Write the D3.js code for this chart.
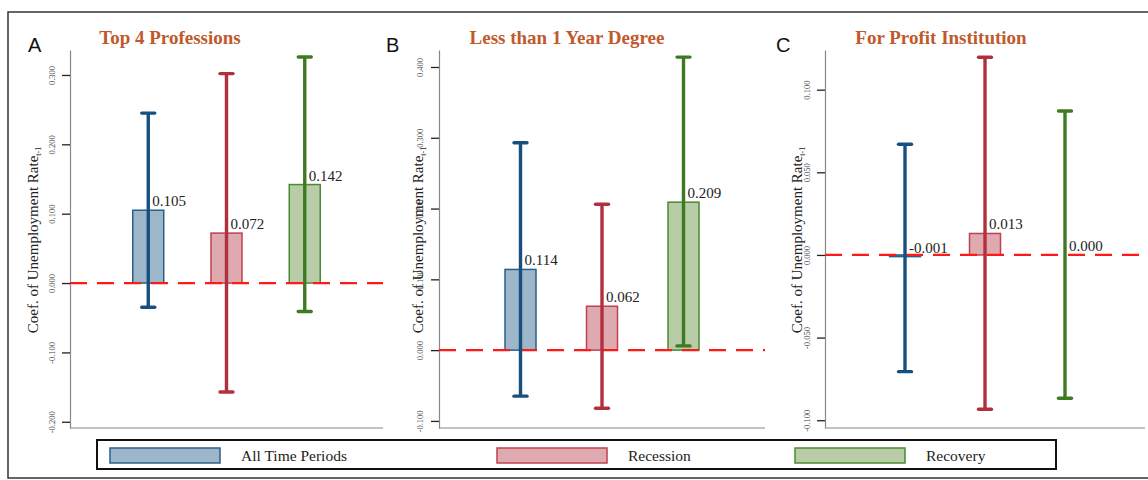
<!DOCTYPE html>
<html>
<head>
<meta charset="utf-8">
<script src="https://cdn.jsdelivr.net/npm/d3@7"></script>
<style>
  html, body { margin: 0; padding: 0; background: #fff; }
  svg { display: block; }
</style>
</head>
<body>
<div id="chart"></div>
<script>
// Series / categories
var periods = ['All Time Periods', 'Recession', 'Recovery'];
var panelLetters = ['A', 'B', 'C'];
var panelTitles = ['Top 4 Professions', 'Less than 1 Year Degree', 'For Profit Institution'];

// Coefficients and confidence interval bounds, per panel
var coefA = [0.105, 0.072, 0.142];
var lowA = [-0.035, -0.157, -0.041];
var highA = [0.245, 0.302, 0.326];

var coefB = [0.114, 0.062, 0.209];
var lowB = [-0.065, -0.082, 0.006];
var highB = [0.293, 0.206, 0.414];

var coefC = [-0.001, 0.013, 0.000];
var lowC = [-0.0706, -0.0934, -0.0867];
var highC = [0.067, 0.1196, 0.0871];

// Axis ticks and ranges
var ticksA = [-0.2, -0.1, 0, 0.1, 0.2, 0.3];
var ticksB = [-0.1, 0, 0.1, 0.2, 0.3, 0.4];
var ticksC = [-0.1, -0.05, 0, 0.05, 0.1];
var domainA = [-0.209, 0.336];
var domainB = [-0.110, 0.424];
var domainC = [-0.1047, 0.124];

var colors = {
  err: ['#17507f', '#b2303e', '#3e7a22'],
  fill: ['#9db6ca', '#deaab0', '#b8cca8'],
  stroke: ['#2a5f8a', '#c0404e', '#4a8a30']
};

var W = 1148, H = 480;
// note: can't call this "top", that's window.top
var plotTop = 50, plotBottom = 428;
var barWidth = 31;
var capWidth = 13;
var serif = 'Liberation Serif, Times New Roman, serif';

var svg = d3.select('#chart').append('svg')
    .attr('width', W)
    .attr('height', H);

// outer frame
svg.append('rect')
    .attr('x', 8).attr('y', 12)
    .attr('width', W).attr('height', 466)
    .attr('fill', 'none')
    .attr('stroke', '#333')
    .attr('stroke-width', 1.5);

var panels = [
  {x0: 70, w: 313, coef: coefA, low: lowA, high: highA, ticks: ticksA, domain: domainA,
   letterX: 28, titleX: 170, ylabX: 38, tickLabX: 55},
  {x0: 439, w: 326, coef: coefB, low: lowB, high: highB, ticks: ticksB, domain: domainB,
   letterX: 386, titleX: 567, ylabX: 423, tickLabX: 423},
  {x0: 825, w: 320, coef: coefC, low: lowC, high: highC, ticks: ticksC, domain: domainC,
   letterX: 776, titleX: 941, ylabX: 802, tickLabX: 810}
];

var tickFmt = function(v) { return d3.format('.3f')(v).replace('\u2212', '-'); };

panels.forEach(function(p, i) {
  var yScale = d3.scaleLinear().domain(p.domain).range([plotBottom, plotTop]);
  var xScale = d3.scalePoint().domain(periods).range([p.x0, p.x0 + p.w]).padding(1);

  var g = svg.append('g').attr('class', 'panel');

  // letter + title
  g.append('text')
      .attr('x', p.letterX).attr('y', 52)
      .attr('font-family', 'Liberation Sans, Arial, sans-serif')
      .attr('font-size', 20)
      .attr('fill', '#111')
      .text(panelLetters[i]);

  g.append('text')
      .attr('x', p.titleX).attr('y', 44)
      .attr('text-anchor', 'middle')
      .attr('font-family', serif)
      .attr('font-weight', 'bold')
      .attr('font-size', 19)
      .attr('fill', '#c05a2c')
      .text(panelTitles[i]);

  // y axis
  var yAxis = d3.axisLeft(yScale)
      .tickValues(p.ticks)
      .tickSize(8)
      .tickSizeOuter(0)
      .tickFormat(tickFmt);

  var ax = g.append('g')
      .attr('transform', 'translate(' + p.x0 + ',0)')
      .call(yAxis);
  ax.select('.domain').attr('stroke', '#888').attr('stroke-width', 1.2);
  ax.selectAll('.tick line').attr('stroke', '#222').attr('stroke-width', 1.3);
  // vertical tick labels, rotated around the tick position
  ax.selectAll('.tick text')
      .attr('x', null).attr('y', null).attr('dy', null)
      .attr('transform', 'translate(' + (p.tickLabX - p.x0) + ',0) rotate(-90)')
      .attr('text-anchor', 'middle')
      .attr('font-family', serif)
      .attr('font-size', 8.5)
      .attr('fill', '#444');

  // bottom line
  g.append('line')
      .attr('x1', p.x0).attr('x2', p.x0 + p.w)
      .attr('y1', plotBottom).attr('y2', plotBottom)
      .attr('stroke', '#888')
      .attr('stroke-width', 1.2);

  // y axis title
  var yl = g.append('text')
      .attr('transform', 'translate(' + p.ylabX + ',240) rotate(-90)')
      .attr('text-anchor', 'middle')
      .attr('font-family', serif)
      .attr('font-size', 15)
      .attr('fill', '#222');
  yl.append('tspan').text('Coef. of Unemployment Rate');
  yl.append('tspan')
      .attr('font-size', 8)
      .attr('dy', 3)
      .text('t-1');

  // bars
  g.append('g')
    .selectAll('rect')
      .data(p.coef)
    .enter().append('rect')
      .attr('x', function(d, j) { return xScale(periods[j]) - barWidth / 2; })
      .attr('y', function(d) { return yScale(Math.max(d, 0)); })
      .attr('width', barWidth)
      .attr('height', function(d) { return Math.abs(yScale(d) - yScale(0)); })
      .attr('fill', function(d, j) { return colors.fill[j]; })
      .attr('stroke', function(d, j) { return colors.stroke[j]; })
      .attr('stroke-width', 1.5);

  // zero reference line
  g.append('line')
      .attr('x1', p.x0).attr('x2', i === 2 ? W : p.x0 + p.w)
      .attr('y1', yScale(0)).attr('y2', yScale(0))
      .attr('stroke', '#ff1a1a')
      .attr('stroke-width', 2.2)
      .attr('stroke-dasharray', '17 10');

  // error bars
  var eb = g.append('g')
    .selectAll('g')
      .data(p.coef)
    .enter().append('g')
      .attr('stroke', function(d, j) { return colors.err[j]; })
      .attr('stroke-width', 3.4);

  eb.append('line')
      .attr('x1', function(d, j) { return xScale(periods[j]); })
      .attr('x2', function(d, j) { return xScale(periods[j]); })
      .attr('y1', function(d, j) { return yScale(p.low[j]); })
      .attr('y2', function(d, j) { return yScale(p.high[j]); });

  eb.append('line')
      .attr('stroke-linecap', 'round')
      .attr('x1', function(d, j) { return xScale(periods[j]) - capWidth / 2; })
      .attr('x2', function(d, j) { return xScale(periods[j]) + capWidth / 2; })
      .attr('y1', function(d, j) { return yScale(p.high[j]); })
      .attr('y2', function(d, j) { return yScale(p.high[j]); });

  eb.append('line')
      .attr('stroke-linecap', 'round')
      .attr('x1', function(d, j) { return xScale(periods[j]) - capWidth / 2; })
      .attr('x2', function(d, j) { return xScale(periods[j]) + capWidth / 2; })
      .attr('y1', function(d, j) { return yScale(p.low[j]); })
      .attr('y2', function(d, j) { return yScale(p.low[j]); });

  // value labels
  g.append('g')
    .selectAll('text')
      .data(p.coef)
    .enter().append('text')
      .attr('x', function(d, j) { return xScale(periods[j]) + 4; })
      .attr('y', function(d) { return yScale(Math.max(d, 0)) - (d < 0 ? 2 : 4); })
      .attr('font-family', serif)
      .attr('font-size', 15)
      .attr('fill', '#222')
      .text(function(d) { return tickFmt(d); });
});

// legend
var legend = svg.append('g').attr('class', 'legend');
legend.append('rect')
    .attr('x', 97).attr('y', 440)
    .attr('width', 959).attr('height', 29)
    .attr('fill', '#fff')
    .attr('stroke', '#111')
    .attr('stroke-width', 2);

var legendX = [110, 497, 795];
periods.forEach(function(name, j) {
  legend.append('rect')
      .attr('x', legendX[j]).attr('y', 448)
      .attr('width', 110).attr('height', 15)
      .attr('fill', colors.fill[j])
      .attr('stroke', colors.stroke[j])
      .attr('stroke-width', 1.5);
  legend.append('text')
      .attr('x', legendX[j] + 131).attr('y', 461)
      .attr('font-family', serif)
      .attr('font-size', 15.5)
      .attr('fill', '#222')
      .text(name);
});
</script>
</body>
</html>
